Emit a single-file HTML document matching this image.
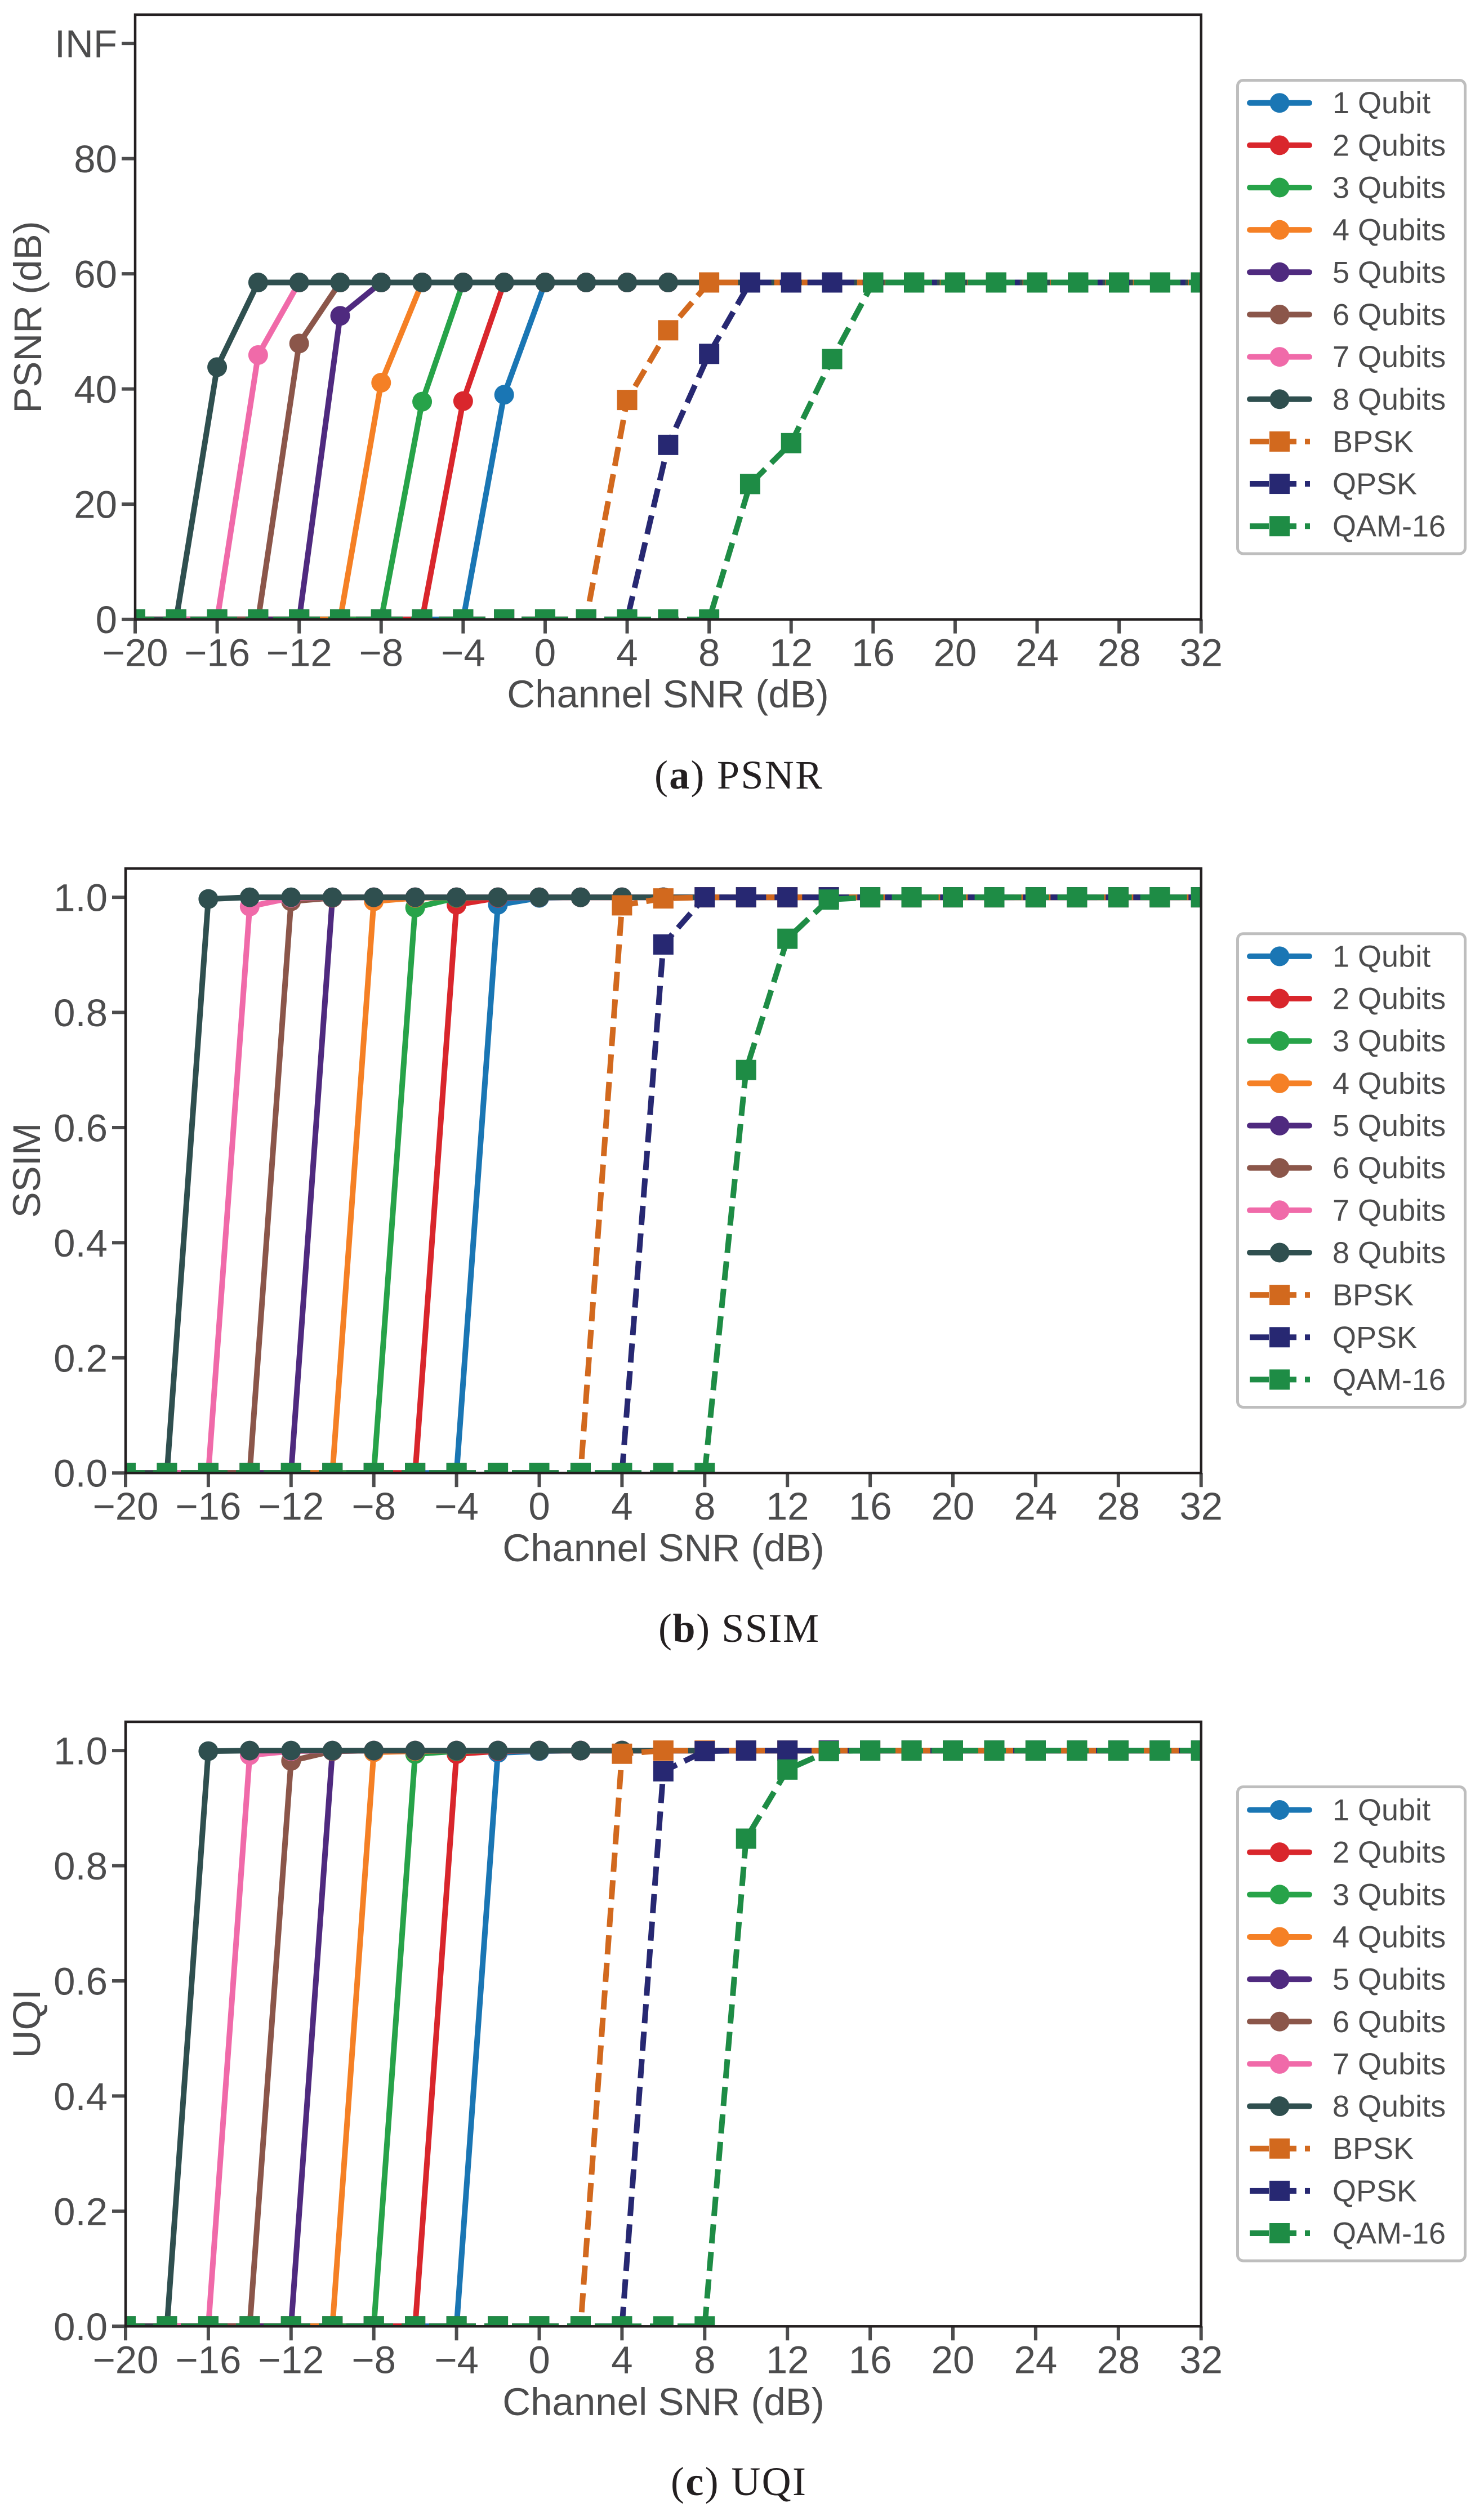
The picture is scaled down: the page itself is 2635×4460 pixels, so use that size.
<!DOCTYPE html>
<html lang="en">
<head>
<meta charset="utf-8">
<title>PSNR, SSIM and UQI versus channel SNR</title>
<style>
  html, body { margin: 0; padding: 0; background: #ffffff; }
  svg { display: block; }
  text { font-family: "Liberation Sans", Arial, sans-serif; fill: #4c4c4d; }
  .caption { font-family: "Liberation Serif", "Times New Roman", serif; font-size: 72px; fill: #231f20; }
  .axis-title { font-size: 69px; }
</style>
</head>
<body>
<svg id="figure" xmlns="http://www.w3.org/2000/svg" width="2635" height="4460" viewBox="0 0 2635 4460">
  <rect x="0" y="0" width="2635" height="4460" fill="#ffffff"/>
  <g id="panel-a"></g>
  <g id="panel-b"></g>
  <g id="panel-c"></g>

  <text class="axis-title" x="1186" y="1256" text-anchor="middle">Channel SNR (dB)</text>
  <text class="axis-title" x="1178" y="2772" text-anchor="middle">Channel SNR (dB)</text>
  <text class="axis-title" x="1178" y="4288" text-anchor="middle">Channel SNR (dB)</text>

  <text class="axis-title" transform="translate(73 563) rotate(-90)" text-anchor="middle">PSNR (dB)</text>
  <text class="axis-title" transform="translate(71 2078) rotate(-90)" text-anchor="middle">SSIM</text>
  <text class="axis-title" transform="translate(71 3593) rotate(-90)" text-anchor="middle">UQI</text>

  <text class="caption" x="1162" y="1400" textLength="298" lengthAdjust="spacing">(<tspan font-weight="bold">a</tspan>) PSNR</text>
  <text class="caption" x="1169" y="2915" textLength="285" lengthAdjust="spacing">(<tspan font-weight="bold">b</tspan>) SSIM</text>
  <text class="caption" x="1191" y="4430" textLength="240" lengthAdjust="spacing">(<tspan font-weight="bold">c</tspan>) UQI</text>
</svg>

<script>
// ---------- categories ----------
const snrValues = [-20,-18,-16,-14,-12,-10,-8,-6,-4,-2,0,2,4,6,8,10,12,14,16,18,20,22,24,26,28,30,32];
const xTickValues = [-20,-16,-12,-8,-4,0,4,8,12,16,20,24,28,32];
const xTickLabels = ["\u221220","\u221216","\u221212","\u22128","\u22124","0","4","8","12","16","20","24","28","32"];
const seriesNames = ["1 Qubit","2 Qubits","3 Qubits","4 Qubits","5 Qubits","6 Qubits","7 Qubits","8 Qubits","BPSK","QPSK","QAM-16"];
const seriesColors = ["#1a76b4","#d9262c","#27a349","#f58025","#4f2a7f","#8b564a","#f06aa9","#2f4f4f","#d2691e","#272872","#1e8c45"];

// ---------- y ticks ----------
const psnrTickValues = [0,20,40,60,80,100];
const psnrTickLabels = ["0","20","40","60","80","INF"];
const unitTickValues = [0,0.2,0.4,0.6,0.8,1.0];
const unitTickLabels = ["0.0","0.2","0.4","0.6","0.8","1.0"];

// ---------- PSNR series ----------
const psnr1 = [0,0,0,0,0,0,0,0,0,39.0,58.5,58.5,58.5,58.5,58.5,58.5,58.5,58.5,58.5,58.5,58.5,58.5,58.5,58.5,58.5,58.5,58.5];
const psnr2 = [0,0,0,0,0,0,0,0,37.9,58.5,58.5,58.5,58.5,58.5,58.5,58.5,58.5,58.5,58.5,58.5,58.5,58.5,58.5,58.5,58.5,58.5,58.5];
const psnr3 = [0,0,0,0,0,0,0,37.8,58.5,58.5,58.5,58.5,58.5,58.5,58.5,58.5,58.5,58.5,58.5,58.5,58.5,58.5,58.5,58.5,58.5,58.5,58.5];
const psnr4 = [0,0,0,0,0,0,41.1,58.5,58.5,58.5,58.5,58.5,58.5,58.5,58.5,58.5,58.5,58.5,58.5,58.5,58.5,58.5,58.5,58.5,58.5,58.5,58.5];
const psnr5 = [0,0,0,0,0,52.7,58.5,58.5,58.5,58.5,58.5,58.5,58.5,58.5,58.5,58.5,58.5,58.5,58.5,58.5,58.5,58.5,58.5,58.5,58.5,58.5,58.5];
const psnr6 = [0,0,0,0,47.9,58.5,58.5,58.5,58.5,58.5,58.5,58.5,58.5,58.5,58.5,58.5,58.5,58.5,58.5,58.5,58.5,58.5,58.5,58.5,58.5,58.5,58.5];
const psnr7 = [0,0,0,45.9,58.5,58.5,58.5,58.5,58.5,58.5,58.5,58.5,58.5,58.5,58.5,58.5,58.5,58.5,58.5,58.5,58.5,58.5,58.5,58.5,58.5,58.5,58.5];
const psnr8 = [0,0,43.8,58.5,58.5,58.5,58.5,58.5,58.5,58.5,58.5,58.5,58.5,58.5,58.5,58.5,58.5,58.5,58.5,58.5,58.5,58.5,58.5,58.5,58.5,58.5,58.5];
const psnrBpsk = [0,0,0,0,0,0,0,0,0,0,0,0,38.1,50.2,58.5,58.5,58.5,58.5,58.5,58.5,58.5,58.5,58.5,58.5,58.5,58.5,58.5];
const psnrQpsk = [0,0,0,0,0,0,0,0,0,0,0,0,0,30.3,46.1,58.5,58.5,58.5,58.5,58.5,58.5,58.5,58.5,58.5,58.5,58.5,58.5];
const psnrQam = [0,0,0,0,0,0,0,0,0,0,0,0,0,0,0,23.5,30.6,45.2,58.5,58.5,58.5,58.5,58.5,58.5,58.5,58.5,58.5];

// ---------- SSIM series ----------
const ssim1 = [0,0,0,0,0,0,0,0,0,0.987,0.999,1,1,1,1,1,1,1,1,1,1,1,1,1,1,1,1];
const ssim2 = [0,0,0,0,0,0,0,0,0.987,0.999,1,1,1,1,1,1,1,1,1,1,1,1,1,1,1,1,1];
const ssim3 = [0,0,0,0,0,0,0,0.982,0.999,1,1,1,1,1,1,1,1,1,1,1,1,1,1,1,1,1,1];
const ssim4 = [0,0,0,0,0,0,0.993,0.999,1,1,1,1,1,1,1,1,1,1,1,1,1,1,1,1,1,1,1];
const ssim5 = [0,0,0,0,0,0.999,1,1,1,1,1,1,1,1,1,1,1,1,1,1,1,1,1,1,1,1,1];
const ssim6 = [0,0,0,0,0.993,0.999,1,1,1,1,1,1,1,1,1,1,1,1,1,1,1,1,1,1,1,1,1];
const ssim7 = [0,0,0,0.984,0.999,1,1,1,1,1,1,1,1,1,1,1,1,1,1,1,1,1,1,1,1,1,1];
const ssim8 = [0,0,0.997,1,1,1,1,1,1,1,1,1,1,1,1,1,1,1,1,1,1,1,1,1,1,1,1];
const ssimBpsk = [0,0,0,0,0,0,0,0,0,0,0,0,0.986,0.998,1,1,1,1,1,1,1,1,1,1,1,1,1];
const ssimQpsk = [0,0,0,0,0,0,0,0,0,0,0,0,0,0.918,1,1,1,1,1,1,1,1,1,1,1,1,1];
const ssimQam = [0,0,0,0,0,0,0,0,0,0,0,0,0,0,0,0.70,0.928,0.996,1,1,1,1,1,1,1,1,1];

// ---------- UQI series ----------
const uqi1 = [0,0,0,0,0,0,0,0,0,0.996,0.999,1,1,1,1,1,1,1,1,1,1,1,1,1,1,1,1];
const uqi2 = [0,0,0,0,0,0,0,0,0.994,0.999,1,1,1,1,1,1,1,1,1,1,1,1,1,1,1,1,1];
const uqi3 = [0,0,0,0,0,0,0,0.994,0.999,1,1,1,1,1,1,1,1,1,1,1,1,1,1,1,1,1,1];
const uqi4 = [0,0,0,0,0,0,0.997,0.999,1,1,1,1,1,1,1,1,1,1,1,1,1,1,1,1,1,1,1];
const uqi5 = [0,0,0,0,0,0.999,1,1,1,1,1,1,1,1,1,1,1,1,1,1,1,1,1,1,1,1,1];
const uqi6 = [0,0,0,0,0.982,0.999,1,1,1,1,1,1,1,1,1,1,1,1,1,1,1,1,1,1,1,1,1];
const uqi7 = [0,0,0,0.992,0.999,1,1,1,1,1,1,1,1,1,1,1,1,1,1,1,1,1,1,1,1,1,1];
const uqi8 = [0,0,0.999,1,1,1,1,1,1,1,1,1,1,1,1,1,1,1,1,1,1,1,1,1,1,1,1];
const uqiBpsk = [0,0,0,0,0,0,0,0,0,0,0,0,0.9945,1,1,1,1,1,1,1,1,1,1,1,1,1,1];
const uqiQpsk = [0,0,0,0,0,0,0,0,0,0,0,0,0,0.964,0.999,1,1,1,1,1,1,1,1,1,1,1,1];
const uqiQam = [0,0,0,0,0,0,0,0,0,0,0,0,0,0,0,0.847,0.967,0.999,1,1,1,1,1,1,1,1,1];

const SVG_NS = "http://www.w3.org/2000/svg";

function make(parent, tag, attrs) {
  const node = document.createElementNS(SVG_NS, tag);
  for (const key in attrs) node.setAttribute(key, attrs[key]);
  parent.appendChild(node);
  return node;
}

function drawPanel(cfg) {
  const root = document.getElementById(cfg.id);
  const xScale = v => cfg.left + (v - (-20)) * (cfg.right - cfg.left) / 52;
  const yScale = v => cfg.bottom - (v / cfg.yMax) * (cfg.bottom - cfg.top);

  const defs = make(root, "defs", {});
  const clip = make(defs, "clipPath", { id: cfg.id + "-clip" });
  make(clip, "rect", { x: cfg.left, y: cfg.top, width: cfg.right - cfg.left, height: cfg.bottom - cfg.top });

  const plot = make(root, "g", { "clip-path": "url(#" + cfg.id + "-clip)" });
  
  

  cfg.series.forEach((values, s) => {
    const color = seriesColors[s];
    const isDigital = s >= 8;
    const group = make(plot, "g", {});
    
    

    const points = values.map((v, i) => xScale(snrValues[i]).toFixed(2) + "," + yScale(v).toFixed(2));
    const line = make(group, "polyline", {
      points: points.join(" "),
      fill: "none",
      stroke: color,
      "stroke-width": 10,
      "stroke-linejoin": "round",
      "stroke-linecap": isDigital ? "butt" : "round"
    });
    if (isDigital) line.setAttribute("stroke-dasharray", "34 15");
    
    

    values.forEach((v, i) => {
      const cx = xScale(snrValues[i]);
      const cy = yScale(v);
      let mark;
      if (isDigital) {
        mark = make(group, "rect", { x: cx - 18, y: cy - 18, width: 36, height: 36, fill: color });
      } else {
        mark = make(group, "circle", { cx: cx, cy: cy, r: 17.5, fill: color });
      }
      
      
    });
  });

  // ticks and tick labels
  xTickValues.forEach((v, i) => {
    const px = xScale(v);
    const tick = make(root, "line", { x1: px, x2: px, y1: cfg.bottom, y2: cfg.bottom + 25, stroke: "#4c4c4d", "stroke-width": 6 });
    
    
    const label = make(root, "text", { x: px, y: cfg.bottom + 83, "text-anchor": "middle", "font-size": 69 });
    label.textContent = xTickLabels[i];
    
    
  });
  cfg.yTicks.forEach((v, i) => {
    const py = yScale(v);
    const tick = make(root, "line", { x1: cfg.left - 24, x2: cfg.left, y1: py, y2: py, stroke: "#4c4c4d", "stroke-width": 6 });
    
    
    const label = make(root, "text", { x: cfg.left - 32, y: py + 24.5, "text-anchor": "end", "font-size": 69 });
    label.textContent = cfg.yLabels[i];
    
    
  });

  // axes frame on top of the marks
  const frame = make(root, "rect", {
    x: cfg.left, y: cfg.top, width: cfg.right - cfg.left, height: cfg.bottom - cfg.top,
    fill: "none", stroke: "#231f20", "stroke-width": 4.5
  });
  
  

  // legend
  const legend = make(root, "g", {});
  
  
  const box = make(legend, "rect", {
    x: 2197.5, y: cfg.legendTop, width: 404, height: cfg.legendBottom - cfg.legendTop,
    rx: 10, ry: 10, fill: "#ffffff", stroke: "#bebebe", "stroke-width": 5
  });
  
  

  seriesNames.forEach((name, s) => {
    const rowY = cfg.legendRow + s * 75.15;
    const color = seriesColors[s];
    const isDigital = s >= 8;
    const entry = make(legend, "g", {});
    
    
    const swatch = make(entry, "line", {
      x1: 2219, x2: isDigital ? 2326 : 2325, y1: rowY, y2: rowY,
      stroke: color, "stroke-width": 10, "stroke-linecap": isDigital ? "butt" : "round"
    });
    if (isDigital) swatch.setAttribute("stroke-dasharray", "34 15");
    
    
    const marker = isDigital
      ? make(entry, "rect", { x: 2254, y: rowY - 18, width: 36, height: 36, fill: color })
      : make(entry, "circle", { cx: 2272, cy: rowY, r: 17.5, fill: color });
    
    
    const label = make(entry, "text", { x: 2366, y: rowY + 18.5, "font-size": 54 });
    label.textContent = name;
    
    
  });
}

drawPanel({
  id: "panel-a", metric: "psnr", left: 240, right: 2132.7, top: 26, bottom: 1099.7, yMax: 105,
  yTicks: psnrTickValues, yLabels: psnrTickLabels,
  series: [psnr1, psnr2, psnr3, psnr4, psnr5, psnr6, psnr7, psnr8, psnrBpsk, psnrQpsk, psnrQam],
  legendTop: 142.5, legendBottom: 983, legendRow: 182.7
});
drawPanel({
  id: "panel-b", metric: "ssim", left: 223, right: 2132.7, top: 1542, bottom: 2615.2, yMax: 1.05,
  yTicks: unitTickValues, yLabels: unitTickLabels,
  series: [ssim1, ssim2, ssim3, ssim4, ssim5, ssim6, ssim7, ssim8, ssimBpsk, ssimQpsk, ssimQam],
  legendTop: 1657.7, legendBottom: 2498.5, legendRow: 1697.9
});
drawPanel({
  id: "panel-c", metric: "uqi", left: 223, right: 2132.7, top: 3057, bottom: 4130.3, yMax: 1.05,
  yTicks: unitTickValues, yLabels: unitTickLabels,
  series: [uqi1, uqi2, uqi3, uqi4, uqi5, uqi6, uqi7, uqi8, uqiBpsk, uqiQpsk, uqiQam],
  legendTop: 3172.5, legendBottom: 4014, legendRow: 3213.5
});
</script>
</body>
</html>
